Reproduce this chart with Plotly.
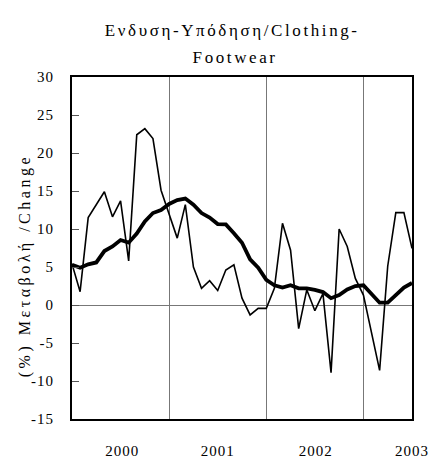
import plotly.graph_objects as go

# Monthly index positions: 0 = Jan 2000 ... 42 = Jul 2003
months = list(range(43))

# Annual % change (thin line)
change = [5.4, 1.75, 11.5, 13.2, 14.9, 11.6, 13.7, 5.8, 22.4, 23.2, 21.9, 15.1,
          12.0, 8.8, 13.2, 5.0, 2.2, 3.2, 1.9, 4.6, 5.3, 0.9, -1.3, -0.45,
          -0.45, 2.2, 10.75, 7.2, -3.1, 2.0, -0.75, 1.5, -8.9, 10.0, 7.7, 3.5,
          1.3, -3.7, -8.6, 5.1, 12.15, 12.15, 7.45]

# Moving average (thick line)
trend = [5.3, 4.9, 5.35, 5.6, 7.1, 7.7, 8.55, 8.2, 9.4, 11.0, 12.1, 12.5,
         13.3, 13.8, 14.0, 13.2, 12.1, 11.5, 10.65, 10.6, 9.45, 8.2, 6.0, 4.9,
         3.3, 2.6, 2.3, 2.6, 2.2, 2.2, 2.0, 1.7, 0.9, 1.3, 2.05, 2.5,
         2.6, 1.5, 0.3, 0.3, 1.3, 2.3, 2.9]

year_labels = ["2000", "2001", "2002", "2003"]
year_label_pos = [6.2, 18.0, 30.1, 42.0]
year_starts = [12, 24, 36]
y_ticks = [-15, -10, -5, 0, 5, 10, 15, 20, 25, 30]
y_tick_text = [str(v) for v in y_ticks]

FONT = "Liberation Serif, Times New Roman, serif"

fig = go.Figure()
fig.add_trace(go.Scatter(x=months, y=change, mode="lines",
                         line=dict(color="black", width=1.6), showlegend=False))
fig.add_trace(go.Scatter(x=months, y=trend, mode="lines",
                         line=dict(color="black", width=3.8), showlegend=False))

fig.update_layout(
    width=429, height=461,
    margin=dict(l=72, r=17, t=77, b=42),
    paper_bgcolor="white", plot_bgcolor="white",
    font=dict(family=FONT, size=15, color="black"),
    xaxis=dict(range=[0, 42], tickvals=year_label_pos, ticktext=year_labels,
               ticks="", showgrid=False, zeroline=False, automargin=False,
               showline=True, mirror=True, linecolor="black", linewidth=2,
               ticklabelstandoff=17, tickfont=dict(family=FONT, size=15),
               minor=dict(tickvals=year_starts, showgrid=True,
                          gridcolor="#777777", gridwidth=1, ticks="")),
    yaxis=dict(range=[-15, 30], tickvals=y_ticks, ticktext=y_tick_text,
               ticks="inside", ticklen=7, automargin=False,
               tickcolor="#555555", tickwidth=1, showgrid=False,
               zeroline=True, zerolinecolor="#777777", zerolinewidth=1,
               showline=True, mirror=True, linecolor="black", linewidth=2,
               ticklabelstandoff=13, tickfont=dict(family=FONT, size=15)),
    annotations=[
        dict(text="Ενδυση-Υπόδηση/Clothing-", xref="paper", yref="paper",
             x=0.4735, y=1.137, xanchor="center", yanchor="middle",
             showarrow=False, font=dict(family=FONT, size=17)),
        dict(text="Footwear", xref="paper", yref="paper",
             x=0.4809, y=1.0556, xanchor="center", yanchor="middle",
             showarrow=False, font=dict(family=FONT, size=17)),
        dict(text="(%) Μεταβολή /Change", xref="paper", yref="paper",
             x=-0.138, y=0.447, xanchor="center", yanchor="middle",
             textangle=-90, showarrow=False, font=dict(family=FONT, size=16)),
    ],
)

post = """
document.body.style.margin='0';
var anns = document.querySelectorAll('.annotation-text');
anns.forEach(function(e, i){e.style.letterSpacing = (i < 2 ? '2.6px' : '3.5px');});
document.querySelectorAll('.xtick text, .ytick text').forEach(function(e){e.style.letterSpacing='1px';});
"""

fig.write_html("out.html", post_script=post, config={"displayModeBar": False})
